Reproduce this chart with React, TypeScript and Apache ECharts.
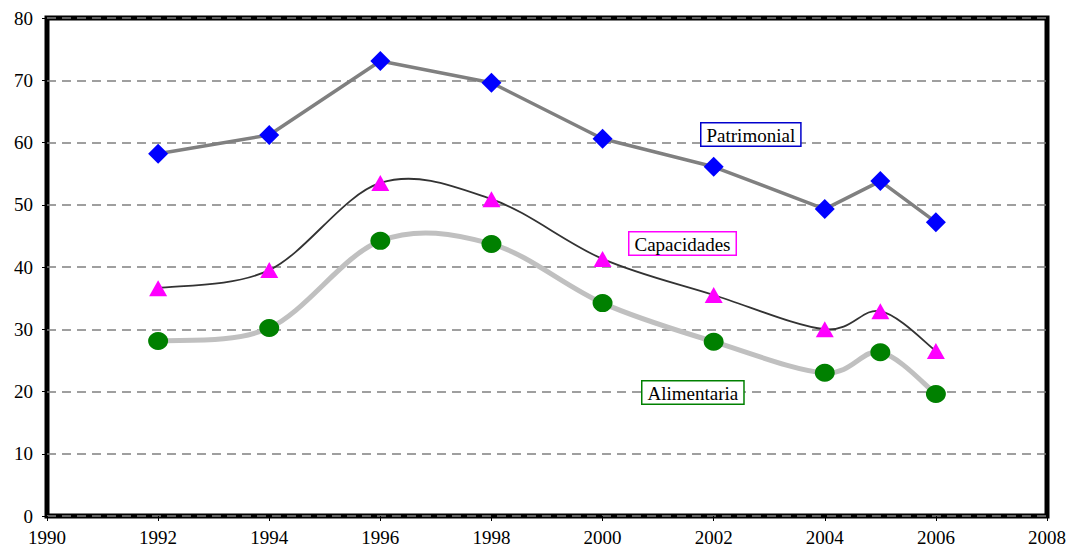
import React, { useEffect, useRef } from "react";
import * as echarts from "echarts";

const years = [1992, 1994, 1996, 1998, 2000, 2002, 2004, 2005, 2006];
const patrimonial = [58.2, 61.2, 73.1, 69.6, 60.6, 56.1, 49.3, 53.8, 47.2];
const capacidades = [36.6, 39.5, 53.5, 50.9, 41.3, 35.5, 30.0, 32.9, 26.5];
const alimentaria = [28.1, 30.2, 44.2, 43.7, 34.2, 28.0, 23.0, 26.3, 19.6];
const seriesNames = ["Patrimonial", "Capacidades", "Alimentaria"];

const pairs = (vals: number[]) => years.map((y, i) => [y, vals[i]]);

// Excel-like smoothed curve (Catmull-Rom segments) drawn through the axis scales
const smoothCurve = (vals: number[], stroke: string, width: number, z: number) => ({
  type: "custom",
  data: pairs(vals),
  encode: { x: 0, y: 1 },
  z,
  silent: true,
  renderItem: (params: any, api: any) => {
    const i = params.dataIndex;
    const n = years.length;
    if (i >= n - 1) return null;
    const pt = (j: number) => {
      const k = Math.max(0, Math.min(n - 1, j));
      return api.coord([years[k], vals[k]]);
    };
    const p0 = pt(i - 1);
    const p1 = pt(i);
    const p2 = pt(i + 1);
    const p3 = pt(i + 2);
    const t = 6;
    return {
      type: "bezierCurve",
      shape: {
        x1: p1[0],
        y1: p1[1],
        x2: p2[0],
        y2: p2[1],
        cpx1: p1[0] + (p2[0] - p0[0]) / t,
        cpy1: p1[1] + (p2[1] - p0[1]) / t,
        cpx2: p2[0] - (p3[0] - p1[0]) / t,
        cpy2: p2[1] - (p3[1] - p1[1]) / t,
      },
      style: { stroke, lineWidth: width, fill: "none", lineCap: "round" },
    };
  },
});

export default function App() {
  const ref = useRef<HTMLDivElement>(null);
  useEffect(() => {
    if (!ref.current) return;
    const chart = echarts.init(ref.current, null, { renderer: "svg" });
    const font = "Liberation Serif";
    const boxLabel = (text: string, left: number, top: number, color: string) => ({
      type: "text",
      left,
      top,
      z: 100,
      style: {
        text,
        fill: "#000",
        fontFamily: font,
        fontSize: 19,
        backgroundColor: "#fff",
        borderColor: color,
        borderWidth: 1.5,
        padding: [2, 5, 1, 5],
      },
    });
    chart.setOption({
      animation: false,
      backgroundColor: "#fff",
      textStyle: { fontFamily: font },
      grid: {
        left: 47,
        right: 23,
        top: 18,
        bottom: 34,
        show: true,
        borderColor: "#000",
        borderWidth: 5,
        backgroundColor: "#fff",
      },
      xAxis: {
        type: "value",
        min: 1990,
        max: 2008,
        interval: 2,
        axisLine: { show: false },
        axisTick: { show: true, length: 5, lineStyle: { color: "#000", width: 1 } },
        axisLabel: {
          color: "#000",
          fontFamily: font,
          fontSize: 19,
          margin: 12,
          formatter: (v: number) => String(v),
        },
        splitLine: { show: false },
      },
      yAxis: {
        type: "value",
        min: 0,
        max: 80,
        interval: 10,
        axisLine: { show: false },
        axisTick: { show: true, length: 5, lineStyle: { color: "#000", width: 1 } },
        axisLabel: { color: "#000", fontFamily: font, fontSize: 19, margin: 14 },
        splitLine: {
          show: true,
          lineStyle: { color: "#808080", type: [9, 6], width: 1.5 },
        },
      },
      series: [
        smoothCurve(alimentaria, "#c0c0c0", 5, 2),
        {
          name: seriesNames[2],
          type: "line",
          data: pairs(alimentaria),
          lineStyle: { width: 0 },
          symbol: "circle",
          symbolSize: [20, 18],
          itemStyle: { color: "#008000" },
          z: 5,
        },
        smoothCurve(capacidades, "#333333", 1.8, 3),
        {
          name: seriesNames[1],
          type: "line",
          data: pairs(capacidades),
          lineStyle: { width: 0 },
          symbol: "triangle",
          symbolSize: [18, 16],
          itemStyle: { color: "#ff00ff" },
          z: 5,
        },
        {
          name: seriesNames[0],
          type: "line",
          data: pairs(patrimonial),
          smooth: false,
          lineStyle: { color: "#808080", width: 3.5 },
          symbol: "diamond",
          symbolSize: [20, 20],
          itemStyle: { color: "#0000ff" },
          z: 6,
        },
      ],
      graphic: [
        boxLabel(seriesNames[0], 700, 122, "#0000cc"),
        boxLabel(seriesNames[1], 628, 231, "#ff00ff"),
        boxLabel(seriesNames[2], 641, 380, "#008000"),
      ],
    });
    return () => chart.dispose();
  }, []);
  return (
    <div
      ref={ref}
      style={{ position: "fixed", left: 0, top: 0, width: 1070, height: 550 }}
    />
  );
}
